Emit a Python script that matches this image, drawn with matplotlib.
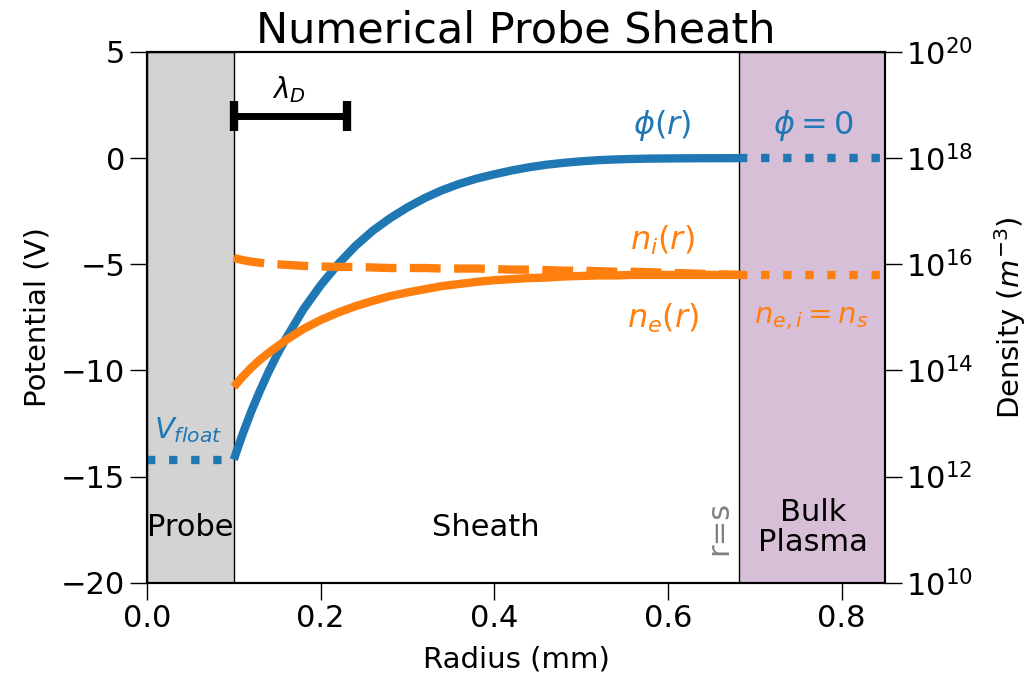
import numpy as np
import matplotlib
matplotlib.use("Agg")
import matplotlib.pyplot as plt

# radius points (mm)
r_sheath = [0.10, 0.11, 0.12, 0.13, 0.14, 0.15, 0.16,
            0.18, 0.20, 0.22, 0.24, 0.26, 0.28, 0.30, 0.32, 0.34, 0.36,
            0.38, 0.40, 0.42, 0.44, 0.46, 0.48, 0.50, 0.52, 0.54, 0.56,
            0.58, 0.60, 0.62, 0.64, 0.66, 0.682]
# potential (V)
phi = [-14.2, -13.02, -11.94, -10.97, -10.07, -9.25, -8.50,
       -7.13, -5.99, -5.00, -4.14, -3.42, -2.83, -2.32, -1.88, -1.51, -1.21,
       -0.96, -0.76, -0.58, -0.43, -0.31, -0.22, -0.15, -0.095, -0.061, -0.037,
       -0.022, -0.014, -0.008, -0.005, -0.003, 0.0]
# log10 of densities (m^-3)
log_ne = [13.69, 13.88, 14.05, 14.20, 14.33, 14.45, 14.57,
          14.78, 14.95, 15.09, 15.21, 15.31, 15.40, 15.47, 15.53, 15.59, 15.63,
          15.67, 15.70, 15.72, 15.74, 15.75, 15.77, 15.78, 15.79, 15.79, 15.80,
          15.80, 15.80, 15.80, 15.80, 15.80, 15.80]
log_ni = [16.12, 16.08, 16.05, 16.03, 16.01, 16.00, 15.99,
          15.97, 15.96, 15.95, 15.95, 15.94, 15.93, 15.93, 15.93, 15.92, 15.92,
          15.92, 15.91, 15.90, 15.90, 15.89, 15.88, 15.88, 15.87, 15.86, 15.86,
          15.85, 15.84, 15.83, 15.82, 15.81, 15.80]

r_probe = 0.1
r_sheath_edge = 0.682
r_max = 0.85
v_float = -14.2
log_ns = 15.80
debye = 0.13

ne = 10 ** np.array(log_ne)
ni = 10 ** np.array(log_ni)
n_s = 10 ** log_ns

blue = "#1f77b4"
orange = "#ff7f0e"

plt.rcParams["font.size"] = 22

fig = plt.figure(figsize=(10.35, 6.84), dpi=100)
ax = fig.add_axes([0.142, 0.148, 0.713, 0.776])
ax2 = ax.twinx()

# regions
ax.axvspan(0, r_probe, facecolor="lightgray", edgecolor="black", lw=1, zorder=0)
ax.axvspan(r_sheath_edge, r_max, facecolor="thistle", edgecolor="black", lw=1, zorder=0)

# potential
ax.plot(r_sheath, phi, color=blue, lw=6, solid_capstyle="butt")
ax.plot([0, r_probe], [v_float, v_float], ":", color=blue, lw=6)
ax.plot([r_sheath_edge, r_max], [0, 0], ":", color=blue, lw=6)

# debye length bar
ax.errorbar([r_probe + debye / 2], [2], xerr=[debye / 2], color="black", lw=5,
            capsize=11, capthick=6)
ax.text(r_probe + debye / 2 - 0.001, 3.25, r"$\lambda_D$", ha="center", va="center", fontsize=20)

# densities
ax2.plot(r_sheath, ne, color=orange, lw=6, solid_capstyle="butt")
ax2.plot(r_sheath, ni, "--", color=orange, lw=6)
ax2.plot([r_sheath_edge, r_max], [n_s, n_s], ":", color=orange, lw=6)

# labels
ax.text(0.593, 1.55, r"$\phi(r)$", color=blue, ha="center", va="center", fontsize=23)
ax.text(0.767, 1.55, r"$\phi = 0$", color=blue, ha="center", va="center", fontsize=23)
ax.text(0.594, -3.86, r"$n_i(r)$", color=orange, ha="center", va="center", fontsize=23)
ax.text(0.594, -7.53, r"$n_e(r)$", color=orange, ha="center", va="center", fontsize=23)
ax.text(0.765, -7.53, r"$n_{e,i} = n_s$", color=orange, ha="center", va="center", fontsize=21)
ax.text(0.048, -12.8, r"$V_{float}$", color=blue, ha="center", va="center", fontsize=21)
ax.text(0.05, -17.4, "Probe", ha="center", va="center", fontsize=22)
ax.text(0.39, -17.4, "Sheath", ha="center", va="center", fontsize=22)
ax.text(0.767, -17.4, "Bulk\nPlasma", ha="center", va="center", fontsize=22, linespacing=1.05)
ax.text(0.659, -17.4, "r=s", color="gray", rotation=90, ha="center", va="center", fontsize=22)

ax.set_xlim(0, r_max)
ax.set_ylim(-20, 5)
ax.set_xticks([0, 0.2, 0.4, 0.6, 0.8])
ax.set_yticks([-20, -15, -10, -5, 0, 5])
ax.set_xlabel("Radius (mm)", fontsize=21, labelpad=9)
ax.set_ylabel("Potential (V)", fontsize=21, labelpad=7)
ax.set_title("Numerical Probe Sheath", fontsize=31, pad=6)

ax2.set_yscale("log")
ax2.set_ylim(1e10, 1e20)
ax2.set_yticks([1e10, 1e12, 1e14, 1e16, 1e18, 1e20])
ax2.minorticks_off()
ax2.set_ylabel(r"Density ($m^{-3}$)", fontsize=21, labelpad=13)

for a in (ax, ax2):
    a.tick_params(length=12, width=1, labelsize=22)
    for s in a.spines.values():
        s.set_linewidth(1.5)

fig.savefig("out.png", dpi=100)
